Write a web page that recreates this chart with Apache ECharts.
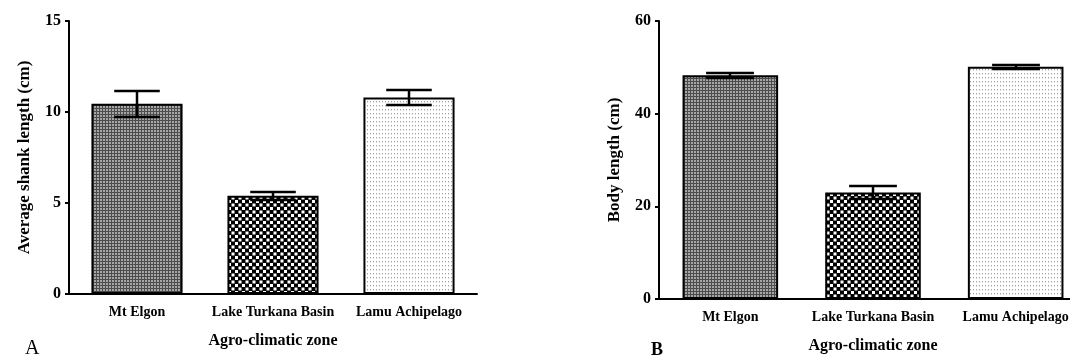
<!DOCTYPE html>
<html>
<head>
<meta charset="utf-8">
<script src="https://cdn.jsdelivr.net/npm/echarts@6/dist/echarts.min.js"></script>
<style>html,body{margin:0;padding:0;background:#fff}#c{width:1070px;height:359px}</style>
</head>
<body>
<div id="c"></div>
<script>
const categories = ['Mt Elgon', 'Lake Turkana Basin', 'Lamu Achipelago'];
const shankMean = [10.45, 5.4, 10.8];
const shankSE = [0.73, 0.22, 0.43];
const bodyMean = [48.3, 23.0, 50.1];
const bodySE = [0.55, 1.4, 0.5];
const shankTicks = [0, 5, 10, 15];
const bodyTicks = [0, 20, 40, 60];

function pattern(w, h, draw) {
  const c = document.createElement('canvas');
  c.width = w; c.height = h;
  const g = c.getContext('2d');
  draw(g);
  return { image: c, repeat: 'repeat' };
}
const fineChecker = pattern(3, 3, (g) => {
  g.fillStyle = '#4c4c4c'; g.fillRect(0, 0, 3, 3);
  g.fillStyle = '#a6a6a6'; g.fillRect(1, 1, 2, 2);
});
const bigChecker = pattern(7, 7, (g) => {
  g.fillStyle = '#000'; g.fillRect(0, 0, 7, 7);
  g.fillStyle = '#fff'; g.fillRect(0.5, 0.5, 3, 3); g.fillRect(4, 4, 3, 3);
});
const dots = pattern(3, 4, (g) => {
  g.fillStyle = '#fff'; g.fillRect(0, 0, 3, 4);
  g.fillStyle = '#a0a0a0'; g.fillRect(1, 1, 1, 1);
  g.fillStyle = '#dcdcdc'; g.fillRect(1, 2, 1, 1);
});
const fills = [fineChecker, bigChecker, dots];

const serif = 'Liberation Serif';

function errData(mean, se) {
  return mean.map((m, i) => [i, m - se[i], m + se[i]]);
}
function renderErr(params, api) {
  const i = api.value(0);
  const lo = api.coord([i, api.value(1)]);
  const hi = api.coord([i, api.value(2)]);
  const band = api.size([1, 0])[0];
  const hw = band * 0.67 / 4;
  const yl = Math.round(lo[1]), yh = Math.round(hi[1]), x = Math.round(hi[0]);
  const st = { stroke: '#000', lineWidth: 2.5 };
  return {
    type: 'group',
    children: [
      { type: 'line', shape: { x1: x, y1: yh, x2: x, y2: yl }, style: st },
      { type: 'line', shape: { x1: x - hw, y1: yh, x2: x + hw, y2: yh }, style: st },
      { type: 'line', shape: { x1: x - hw, y1: yl, x2: x + hw, y2: yl }, style: st }
    ]
  };
}

function xAxis(gridIndex, labelMargin, nameGap) {
  return {
    type: 'category', gridIndex, data: categories,
    name: 'Agro-climatic zone', nameLocation: 'middle', nameGap,
    nameTextStyle: { fontFamily: serif, fontWeight: 'bold', fontSize: 16, color: '#000' },
    axisLine: { lineStyle: { color: '#000', width: 2 } },
    axisTick: { alignWithLabel: true, length: 5, lineStyle: { color: '#000', width: 2 } },
    axisLabel: { interval: 0, fontFamily: serif, fontWeight: 'bold', fontSize: 14, color: '#000', margin: labelMargin }
  };
}
function yAxis(gridIndex, max, interval, name, nameGap) {
  return {
    type: 'value', gridIndex, min: 0, max, interval,
    name, nameLocation: 'middle', nameGap,
    nameTextStyle: { fontFamily: serif, fontWeight: 'bold', fontSize: 17, color: '#000' },
    axisLine: { show: true, lineStyle: { color: '#000', width: 2 } },
    axisTick: { show: true, length: 4, lineStyle: { color: '#000', width: 2 } },
    splitLine: { show: false },
    axisLabel: { fontFamily: serif, fontWeight: 'bold', fontSize: 16, color: '#000', margin: 8 }
  };
}

const option = {
  animation: false,
  backgroundColor: '#fff',
  title: [
    { text: 'A', left: 25, top: 339, padding: 0, textStyle: { fontFamily: serif, fontWeight: 'normal', fontSize: 20, color: '#000' } },
    { text: 'B', left: 651, top: 341, padding: 0, textStyle: { fontFamily: serif, fontWeight: 'bold', fontSize: 18, color: '#000' } }
  ],
  grid: [
    { left: 69, top: 21, width: 408, height: 273, outerBoundsMode: 'none' },
    { left: 659, top: 21, width: 428, height: 278, outerBoundsMode: 'none' }
  ],
  xAxis: [xAxis(0, 11, 39), xAxis(1, 11, 39)],
  yAxis: [
    yAxis(0, 15, 5, 'Average shank length (cm)', 36),
    yAxis(1, 60, 20, 'Body length (cm)', 36)
  ],
  series: [
    {
      type: 'bar', xAxisIndex: 0, yAxisIndex: 0, barWidth: '67%',
      data: shankMean.map((v, i) => ({ value: v, itemStyle: { color: fills[i] } })),
      itemStyle: { borderColor: '#000', borderWidth: 2 }
    },
    {
      type: 'custom', xAxisIndex: 0, yAxisIndex: 0, z: 5,
      data: errData(shankMean, shankSE), renderItem: renderErr
    },
    {
      type: 'bar', xAxisIndex: 1, yAxisIndex: 1, barWidth: '67%',
      data: bodyMean.map((v, i) => ({ value: v, itemStyle: { color: fills[i] } })),
      itemStyle: { borderColor: '#000', borderWidth: 2 }
    },
    {
      type: 'custom', xAxisIndex: 1, yAxisIndex: 1, z: 5,
      data: errData(bodyMean, bodySE), renderItem: renderErr
    }
  ]
};
const chart = echarts.init(document.getElementById('c'));
chart.setOption(option);
</script>
</body>
</html>
